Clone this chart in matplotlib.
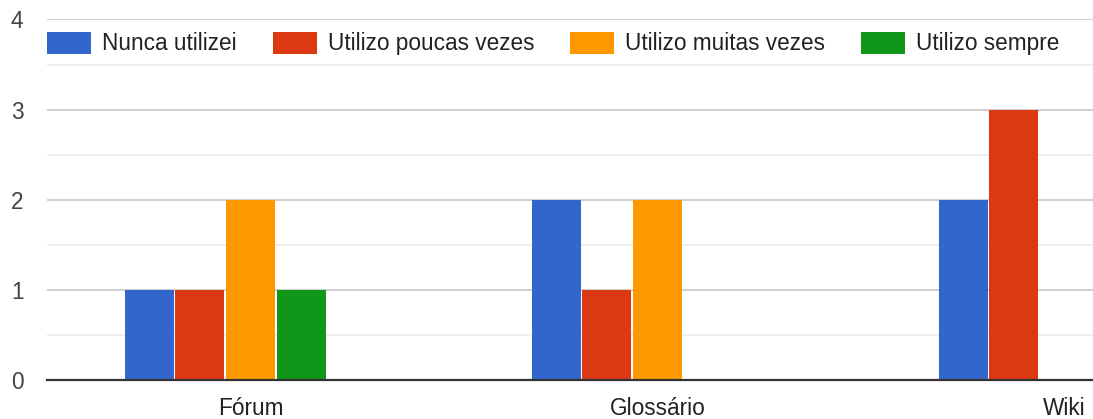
import matplotlib
matplotlib.use("Agg")
import matplotlib.pyplot as plt
from matplotlib.patches import Rectangle
import numpy as np

categories = ["Fórum", "Glossário", "Wiki"]
series_names = ["Nunca utilizei", "Utilizo poucas vezes", "Utilizo muitas vezes", "Utilizo sempre"]
nunca = [1, 2, 2]
poucas = [1, 1, 3]
muitas = [2, 2, 0]
sempre = [1, 0, 0]
yticks = [0, 1, 2, 3, 4]

series_values = [nunca, poucas, muitas, sempre]
colors = ["#3366cc", "#dc3912", "#ff9900", "#109618"]

plt.rcParams['font.family'] = ['Liberation Sans', 'DejaVu Sans']

W, H = 1093, 419
fs = 16.3
fig = plt.figure(figsize=(W / 100, H / 100), dpi=100)
ax = fig.add_axes([47 / W, (H - 380) / H, (W - 47) / W, (380 - 19.5) / H])

x = np.arange(len(categories))
spacing = 0.1245
bw = 0.121
for i, (vals, col) in enumerate(zip(series_values, colors)):
    ax.bar(x + (i - 2) * spacing, vals, width=bw, color=col, zorder=3, linewidth=0)

ax.set_xlim(-0.5, -0.5 + (W - 47) / 407)
ax.set_ylim(0, 4)
ax.set_yticks(yticks)
ax.set_yticks(np.arange(0.5, 4, 1), minor=True)
ax.set_xticks(x)
ax.set_xticklabels(categories)
ax.grid(axis='y', which='major', color='#cccccc', linewidth=1.3, zorder=0)
ax.grid(axis='y', which='minor', color='#ebebeb', linewidth=1.2, zorder=0)
ax.tick_params(axis='both', which='both', length=0, labelsize=fs, labelcolor='#444444')
ax.tick_params(axis='x', pad=12.5, labelcolor='#222222')
ax.tick_params(axis='y', pad=17)
for lab in ax.get_yticklabels():
    lab.set_horizontalalignment('right')
for s in ['top', 'right', 'left']:
    ax.spines[s].set_visible(False)
ax.spines['bottom'].set_color('#333333')
ax.spines['bottom'].set_linewidth(1.6)
ax.spines['bottom'].set_zorder(4)

# legend drawn manually at top
box_x = [47, 273, 570, 861]
text_x = [102, 328, 625, 916]
for bx, tx, name, col in zip(box_x, text_x, series_names, colors):
    fig.patches.append(Rectangle((bx / W, (H - 54) / H), 44 / W, 22 / H,
                                 transform=fig.transFigure, facecolor=col,
                                 edgecolor='none', zorder=5))
    fig.text(tx / W, (H - 43.5) / H, name, fontsize=fs, color='#222222',
             va='center', ha='left', zorder=5)

fig.savefig("out.png", dpi=100, facecolor='white')
